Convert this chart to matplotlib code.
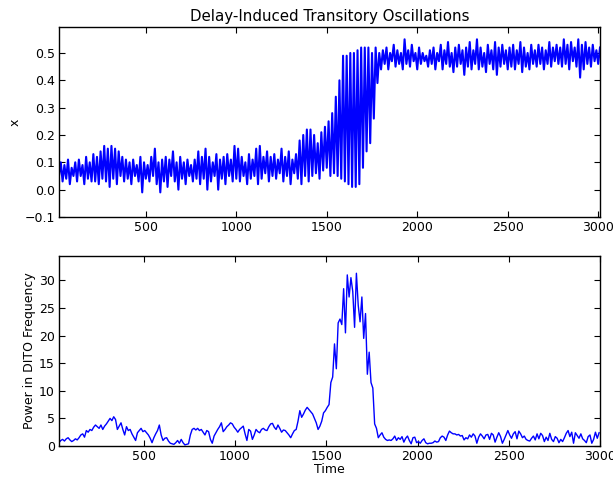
import numpy as np
import matplotlib
matplotlib.use("Agg")
import matplotlib.pyplot as plt

# simulated state x, sampled every 10 time units from t=20 to t=3010
t_state = np.arange(20, 3011, 10)
x_state = [
    0.05, 0.10, 0.03, 0.09, 0.04, 0.11, 0.02, 0.08, 0.05, 0.10,
    0.03, 0.11, 0.05, 0.09, 0.02, 0.12, 0.04, 0.10, 0.03, 0.13,
    0.03, 0.12, 0.02, 0.14, 0.04, 0.16, 0.03, 0.15, 0.01, 0.16,
    0.04, 0.15, 0.02, 0.14, 0.05, 0.12, 0.03, 0.11, 0.04, 0.10,
    0.02, 0.11, 0.05, 0.09, 0.03, 0.12, -0.01, 0.10, 0.04, 0.09,
    0.03, 0.12, 0.05, 0.15, 0.02, 0.10, -0.01, 0.11, 0.03, 0.12,
    0.01, 0.11, 0.05, 0.14, 0.03, 0.10, 0.00, 0.12, 0.04, 0.10,
    0.02, 0.11, 0.05, 0.09, 0.03, 0.11, 0.04, 0.14, 0.02, 0.12,
    0.04, 0.15, 0.00, 0.12, 0.03, 0.10, 0.05, 0.13, 0.00, 0.11,
    0.04, 0.12, 0.02, 0.13, 0.05, 0.11, 0.03, 0.16, 0.04, 0.15,
    0.03, 0.12, 0.05, 0.10, 0.02, 0.13, 0.04, 0.11, 0.05, 0.15,
    0.02, 0.16, 0.04, 0.12, 0.06, 0.14, 0.03, 0.12, 0.05, 0.13,
    0.04, 0.11, 0.06, 0.15, 0.03, 0.12, 0.05, 0.14, 0.02, 0.11,
    0.06, 0.13, 0.04, 0.18, 0.02, 0.20, 0.05, 0.22, 0.03, 0.22,
    0.05, 0.20, 0.06, 0.17, 0.04, 0.21, 0.07, 0.23, 0.08, 0.25,
    0.05, 0.28, 0.06, 0.34, 0.05, 0.40, 0.04, 0.49, 0.03, 0.49,
    0.02, 0.50, 0.01, 0.50, 0.01, 0.51, 0.02, 0.52, 0.08, 0.52,
    0.14, 0.52, 0.17, 0.50, 0.26, 0.52, 0.39, 0.50, 0.44, 0.51,
    0.46, 0.52, 0.44, 0.50, 0.47, 0.53, 0.45, 0.51, 0.46, 0.50,
    0.44, 0.55, 0.46, 0.51, 0.45, 0.53, 0.47, 0.50, 0.44, 0.52,
    0.46, 0.50, 0.47, 0.49, 0.45, 0.51, 0.46, 0.52, 0.44, 0.50,
    0.47, 0.53, 0.44, 0.51, 0.46, 0.54, 0.45, 0.50, 0.43, 0.52,
    0.45, 0.53, 0.46, 0.51, 0.42, 0.52, 0.45, 0.54, 0.44, 0.51,
    0.46, 0.55, 0.44, 0.52, 0.45, 0.50, 0.43, 0.53, 0.46, 0.51,
    0.44, 0.54, 0.42, 0.52, 0.45, 0.53, 0.46, 0.51, 0.44, 0.52,
    0.45, 0.53, 0.44, 0.51, 0.46, 0.54, 0.43, 0.52, 0.45, 0.50,
    0.44, 0.53, 0.46, 0.51, 0.45, 0.53, 0.46, 0.52, 0.44, 0.51,
    0.46, 0.54, 0.45, 0.52, 0.47, 0.53, 0.46, 0.52, 0.45, 0.55,
    0.46, 0.53, 0.44, 0.54, 0.47, 0.52, 0.45, 0.55, 0.41, 0.53,
    0.44, 0.54, 0.46, 0.52, 0.45, 0.53, 0.47, 0.51, 0.46, 0.52,
]

# power in the DITO frequency band, every 10 time units from t=35 to t=2995
t_power = np.arange(35, 2996, 10)
power = [
    0.6, 1.0, 1.2, 0.9, 1.3, 1.5, 1.1,
    0.8, 1.0, 1.3, 1.1, 1.5, 2.0, 2.2, 1.6, 2.8, 2.5,
    3.0, 2.8, 3.4, 3.8, 3.5, 3.2, 3.8, 3.0, 3.6, 4.0,
    4.5, 5.0, 4.6, 5.3, 4.8, 3.0, 3.6, 4.2, 3.0, 2.0,
    3.5, 2.8, 3.0, 2.2, 1.6, 1.0, 2.4, 2.8, 3.2, 2.6,
    2.8, 2.4, 2.0, 1.4, 0.6, 1.5, 2.2, 2.8, 3.8, 2.0,
    1.0, 1.4, 1.5, 0.9, 0.5, 0.4, 0.3, 0.6, 1.0, 0.5,
    1.2, 0.6, 0.2, 0.3, 0.4, 2.0, 3.0, 3.2, 2.9, 3.2,
    2.8, 3.0, 2.5, 2.0, 2.8, 2.6, 1.2, 0.5, 1.8, 2.4,
    3.0, 3.5, 4.2, 2.6, 3.0, 3.5, 3.8, 4.2, 4.0, 3.4,
    3.0, 2.5, 3.0, 3.3, 3.6, 2.2, 1.0, 3.0, 2.7, 1.2,
    2.0, 3.0, 2.6, 2.4, 3.0, 3.2, 2.9, 2.8, 3.5, 4.0,
    4.1, 3.4, 3.0, 3.8, 3.2, 2.5, 2.9, 2.8, 2.4, 2.0,
    1.5, 2.2, 2.8, 3.0, 4.5, 6.4, 5.2, 5.8, 6.5, 7.0,
    6.6, 6.2, 5.8, 5.0, 4.2, 3.0, 3.6, 4.5, 6.0, 6.4,
    7.0, 7.5, 11.5, 12.5, 18.5, 14.0, 22.3, 23.0, 22.0, 28.5,
    20.5, 31.0, 27.0, 30.5, 28.0, 21.5, 31.3, 25.5, 22.5, 27.0,
    19.5, 24.0, 13.0, 17.0, 11.5, 10.5, 4.0, 3.2, 1.5, 2.0,
    2.4, 1.6, 1.2, 1.0, 1.1, 1.0, 1.3, 1.8, 1.0, 1.5,
    1.2, 1.7, 0.7, 1.4, 1.8, 1.0, 0.4, 1.5, 1.6, 0.6,
    0.8, 0.5, 1.0, 1.3, 0.6, 0.4, 0.5, 0.5, 0.6, 0.9,
    0.7, 0.8, 1.5, 1.8, 1.6, 1.0, 2.0, 2.7, 2.4, 2.2,
    2.2, 2.0, 2.1, 1.8, 1.9, 1.1, 1.5, 1.3, 2.0, 1.6,
    2.2, 1.8, 0.5, 1.6, 2.2, 1.8, 1.3, 2.0, 2.1, 1.2,
    2.3, 2.0, 0.7, 1.6, 2.4, 1.7, 0.5, 1.2, 2.0, 2.8,
    2.0, 1.4, 2.2, 2.6, 1.3, 2.7, 2.2, 1.5, 1.8, 1.2,
    1.0, 0.9, 1.4, 1.8, 1.1, 2.2, 1.3, 2.3, 1.9, 0.8,
    1.6, 1.0, 2.3, 1.2, 0.8, 1.7, 1.4, 0.6, 1.2, 0.8,
    1.5, 2.3, 2.8, 1.7, 2.5, 0.5, 2.4, 1.9, 1.4, 2.2,
    1.3, 1.0, 0.6, 1.7, 2.0, 0.5, 1.2, 2.5, 1.4, 2.4,
]

plt.rcParams["font.family"] = "DejaVu Sans"
plt.rcParams["font.size"] = 9

fig = plt.figure(figsize=(6.13, 4.79), dpi=100)
ax1 = fig.add_axes([0.0962, 0.547, 0.8826, 0.3966])
ax2 = fig.add_axes([0.0962, 0.0689, 0.8826, 0.3967])

ax1.plot(t_state, x_state, color="#0000ff", lw=1.5)
ax1.set_xlim(t_state[0], t_state[-1])
ax1.set_ylim(-0.1, 0.595)
ax1.set_yticks(np.arange(-0.1, 0.51, 0.1))
ax1.set_xticks([500, 1000, 1500, 2000, 2500, 3000])
ax1.set_ylabel("x", labelpad=2)
ax1.set_title("Delay-Induced Transitory Oscillations", fontsize=10.8, pad=4)

ax2.plot(t_power, power, color="#0000ff", lw=1.0)
ax2.set_xlim(t_power[0], 3000)
ax2.set_ylim(0, max(power) * 1.1)
ax2.set_yticks([0, 5, 10, 15, 20, 25, 30])
ax2.set_xticks([500, 1000, 1500, 2000, 2500, 3000])
ax2.set_xlabel("Time", labelpad=0)
ax2.set_ylabel("Power in DITO Frequency", labelpad=2)

for ax in (ax1, ax2):
    ax.tick_params(direction="in", top=True, right=True, length=4, width=0.8, pad=3)
    for s in ax.spines.values():
        s.set_linewidth(1.0)

fig.savefig("out.png", dpi=100)
